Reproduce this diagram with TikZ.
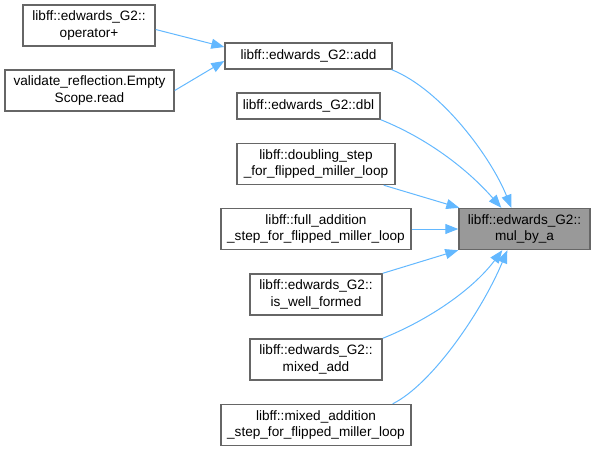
\documentclass[tikz,border=0pt]{standalone}
\usepackage{fontspec}
\setmainfont{Liberation Sans}
\usepackage{xcolor}
\usepackage{tikz}
\usetikzlibrary{arrows.meta, positioning}
\definecolor{edgeblue}{RGB}{99, 184, 255}
\definecolor{boxgray}{RGB}{102, 102, 102}
\definecolor{focusgray}{RGB}{153, 153, 153}
\tikzset{
  fnbox/.style={draw=boxgray, line width=1.4pt, fill=white, align=center,
    inner xsep=2pt, inner ysep=0pt, minimum height=26pt,
    font=\fontsize{13.6}{16.5}\selectfont, text=black},
  twoline/.style={minimum height=41pt},
  calledge/.style={draw=edgeblue, line width=1pt, -{Triangle[length=13pt, width=10pt]}}
}

\begin{document}
\begin{tikzpicture}[x=1pt, y=-1pt]
  \useasboundingbox (0,0) rectangle (596,451);
  % callers of add
  \node[fnbox, twoline, minimum width=132pt] (opplus) at (89,25.5) {libff::edwards\_G2::\\operator+};
  \node[fnbox, twoline, minimum width=169pt] (validate) at (89.5,90.5) {validate\_reflection.Empty\\Scope.read};
  % direct callers
  \node[fnbox, minimum width=167pt] (add) at (308.5,56) {libff::edwards\_G2::add};
  \node[fnbox, minimum width=143pt] (dbl) at (308.5,106) {libff::edwards\_G2::dbl};
  \node[fnbox, twoline, minimum width=158pt] (doubling) at (316,164) {libff::doubling\_step\\\_for\_flipped\_miller\_loop};
  \node[fnbox, twoline, minimum width=190pt] (fulladd) at (316,229) {libff::full\_addition\\\_step\_for\_flipped\_miller\_loop};
  \node[fnbox, twoline, minimum width=132pt] (iswell) at (316,294.5) {libff::edwards\_G2::\\is\_well\_formed};
  \node[fnbox, twoline, minimum width=132pt] (mixedadd) at (316,359.5) {libff::edwards\_G2::\\mixed\_add};
  \node[fnbox, twoline, minimum width=190pt] (mixedaddition) at (316,425) {libff::mixed\_addition\\\_step\_for\_flipped\_miller\_loop};
  % the function itself
  \node[fnbox, twoline, minimum width=131pt, fill=focusgray] (mul) at (524.5,229) {libff::edwards\_G2::\\mul\_by\_a};

  \draw[calledge] ([yshift=-4pt]opplus.east) -- ([yshift=9pt]add.west);
  \draw[calledge] (validate.east) -- ([yshift=-5pt]add.west);
  \draw[calledge] ([xshift=-1pt]add.south east) .. controls +(50,20) and +(-20,-50) .. ([xshift=53pt]mul.north west);
  \draw[calledge] (dbl.south east) .. controls +(45,18) and +(-35,-40) .. ([xshift=43pt]mul.north west);
  \draw[calledge] ([xshift=-12pt]doubling.south east) -- ([xshift=1pt]mul.north west);
  \draw[calledge] (fulladd.east) -- (mul.west);
  \draw[calledge] (iswell.north east) -- (mul.south west);
  \draw[calledge] (mixedadd.north east) .. controls +(45,-18) and +(-30,40) .. ([xshift=44pt]mul.south west);
  \draw[calledge] ([xshift=-19pt]mixedaddition.north east) .. controls +(40,-20) and +(-25,60) .. ([xshift=49pt]mul.south west);
\end{tikzpicture}
\end{document}
